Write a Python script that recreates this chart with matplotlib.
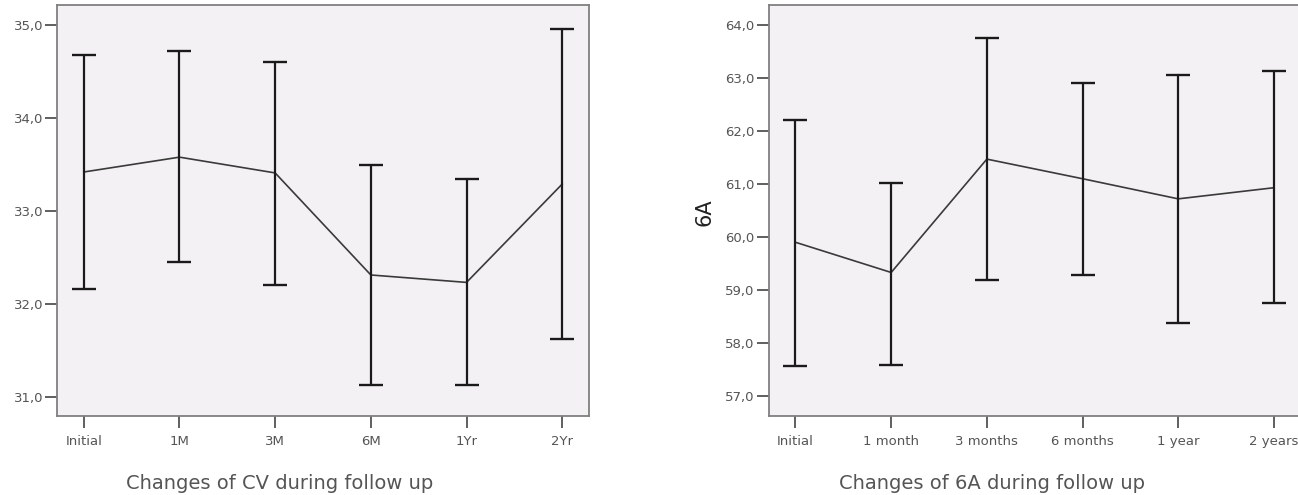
import matplotlib as mpl
mpl.use('Agg')
import matplotlib.pyplot as plt
from matplotlib.ticker import FuncFormatter

# left panel: CV
cv_labels = ['Initial', '1M', '3M', '6M', '1Yr', '2Yr']
cv_mean = [33.42, 33.58, 33.41, 32.31, 32.23, 33.29]
cv_upper = [34.68, 34.72, 34.61, 33.50, 33.34, 34.96]
cv_lower = [32.16, 32.45, 32.20, 31.12, 31.12, 31.62]
cv_ticks = [31.0, 32.0, 33.0, 34.0, 35.0]

# right panel: 6A
a6_labels = ['Initial', '1 month', '3 months', '6 months', '1 year', '2 years']
a6_mean = [59.90, 59.33, 61.47, 61.10, 60.72, 60.93]
a6_upper = [62.21, 61.02, 63.75, 62.90, 63.06, 63.14]
a6_lower = [57.57, 57.58, 59.19, 59.29, 58.37, 58.75]
a6_ticks = [57.0, 58.0, 59.0, 60.0, 61.0, 62.0, 63.0, 64.0]

W, H = 1298, 495
fig = plt.figure(figsize=(W / 100, H / 100), dpi=100)

face = '#f4f1f4'
spine_col = '#808080'
text_col = '#555555'

comma = FuncFormatter(lambda v, _: f'{v:.1f}'.replace('.', ','))


def panel(rect, labels, mean, upper, lower, ticks, ylim):
    ax = fig.add_axes(rect)
    ax.set_facecolor(face)
    x = list(range(len(labels)))
    yerr = [[m - l for m, l in zip(mean, lower)],
            [u - m for m, u in zip(mean, upper)]]
    ax.errorbar(x, mean, yerr=yerr, fmt='none', ecolor='#1a1a1a',
                elinewidth=1.6, capsize=8.5, capthick=1.7, zorder=3)
    ax.plot(x, mean, color='#3a3a3a', lw=1.2, zorder=2)
    ax.set_xlim(-0.28, len(labels) - 1 + 0.28)
    ax.set_ylim(*ylim)
    ax.set_xticks(x)
    ax.set_xticklabels(labels)
    ax.set_yticks(ticks)
    ax.yaxis.set_major_formatter(comma)
    ax.tick_params(direction='out', length=8.5, width=1.2, color='#444444',
                   labelsize=9.5, labelcolor=text_col)
    ax.tick_params(axis='x', pad=5)
    ax.tick_params(axis='y', pad=1.5)
    for s in ax.spines.values():
        s.set_color(spine_col)
        s.set_linewidth(1.3)
    return ax


panel([57 / W, 1 - 416 / H, 532 / W, 411 / H],
      cv_labels, cv_mean, cv_upper, cv_lower, cv_ticks, (30.79, 35.22))
panel([768.7 / W, 1 - 416 / H, 532 / W, 411 / H],
      a6_labels, a6_mean, a6_upper, a6_lower, a6_ticks, (56.62, 64.38))

fig.text(705 / W, 1 - 212 / H, '6A', rotation=90, ha='center', va='center',
         fontsize=15, color='#222222', weight='medium')
fig.text(280 / W, 1 - 489 / H, 'Changes of CV during follow up', ha='center',
         va='baseline', fontsize=14, color=text_col)
fig.text(992 / W, 1 - 489 / H, 'Changes of 6A during follow up', ha='center',
         va='baseline', fontsize=14, color=text_col)

fig.savefig('out.png', dpi=100, facecolor='white')
